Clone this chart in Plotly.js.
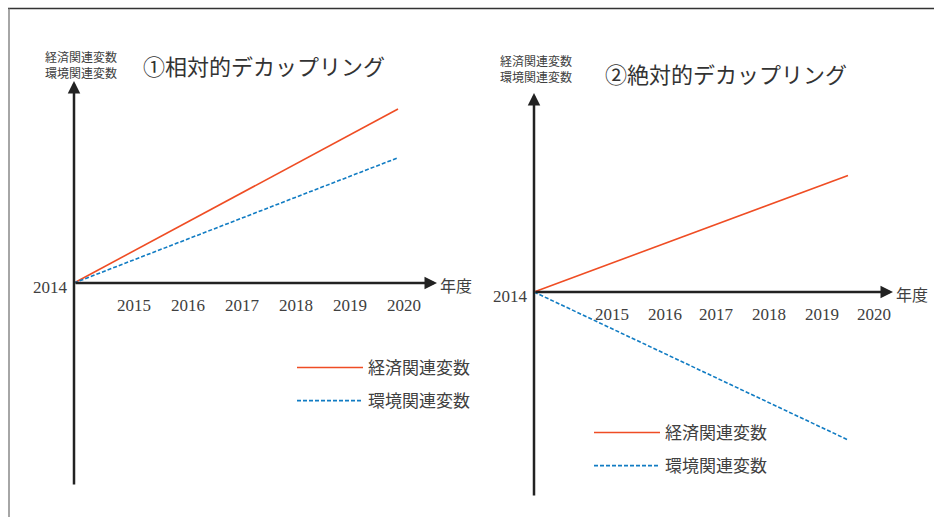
<!DOCTYPE html>
<html><head><meta charset="utf-8">
<script src="https://cdn.plot.ly/plotly-3.0.1.min.js"></script>
<style>html,body{margin:0;padding:0;background:#fff}#chart{width:934px;height:517px}</style>
</head><body><div id="chart"></div>
<script>
// ---- data ----
const years = [2014, 2020];
const tickYears = [2015, 2016, 2017, 2018, 2019, 2020];
const baseYearLabel = '2014';
const seriesNames = ['経済関連変数', '環境関連変数'];
const relativeEcon = [0, 100];
const relativeEnv = [0, 72];
const absoluteEcon = [0, 67];
const absoluteEnv = [0, -85];
const titles = ['①相対的デカップリング', '②絶対的デカップリング'];
const yAxisLabel = '経済関連変数<br>環境関連変数';
const xAxisLabel = '年度';

// ---- layout helpers ----
const W = 934, H = 517;
const RED = '#ef4d24', BLUE = '#117cc3', AX = '#222222', TXT = '#404040';
const SERIF = "'Liberation Serif', 'Noto Sans CJK JP', serif";
const CJK = "'Noto Sans CJK JP', sans-serif";
const base = years[0];

function panel(s) {
  return {
    xdomain: [s.box[0] / W, s.box[2] / W],
    ydomain: [1 - s.box[3] / H, 1 - s.box[1] / H],
    xrange: [base + (s.box[0] - s.ox) / s.pxX, base + (s.box[2] - s.ox) / s.pxX],
    yrange: [(s.oy - s.box[3]) / s.pxY, (s.oy - s.box[1]) / s.pxY],
    xTip: base + (s.xTipPx - s.ox) / s.pxX,
    yTop: (s.oy - s.yTopPx) / s.pxY,
    yBot: (s.oy - s.yBotPx) / s.pxY,
    s: s
  };
}
const P1 = panel({ox: 74, oy: 283, pxX: 54, pxY: 1.74, box: [60, 40, 450, 495], xTipPx: 437, yTopPx: 81, yBotPx: 486, tickDx: 6, tickDy: -22});
const P2 = panel({ox: 534, oy: 292, pxX: 52.33, pxY: 1.74, box: [520, 80, 905, 505], xTipPx: 893, yTopPx: 93, yBotPx: 497, tickDx: 26, tickDy: -22});

function axisOpts(p) {
  return {domain: p.xdomain, range: p.xrange, visible: false, fixedrange: true};
}
function yaxisOpts(p) {
  return {domain: p.ydomain, range: p.yrange, visible: false, fixedrange: true};
}

const traces = [
  {x: years, y: relativeEcon, xaxis: 'x', yaxis: 'y', mode: 'lines', name: seriesNames[0],
   line: {color: RED, width: 1.6}, legend: 'legend', legendgroup: 'a'},
  {x: years, y: relativeEnv, xaxis: 'x', yaxis: 'y', mode: 'lines', name: seriesNames[1],
   line: {color: BLUE, width: 1.6, dash: '4px,2px'}, legend: 'legend', legendgroup: 'b'},
  {x: years, y: absoluteEcon, xaxis: 'x2', yaxis: 'y2', mode: 'lines', name: seriesNames[0],
   line: {color: RED, width: 1.6}, legend: 'legend2', legendgroup: 'c'},
  {x: years, y: absoluteEnv, xaxis: 'x2', yaxis: 'y2', mode: 'lines', name: seriesNames[1],
   line: {color: BLUE, width: 1.6, dash: '4px,2px'}, legend: 'legend2', legendgroup: 'd'}
];

const annotations = [];
[[P1, 'x', 'y'], [P2, 'x2', 'y2']].forEach(([p, xr, yr], i) => {
  // axes with arrowheads
  annotations.push({xref: xr, yref: yr, axref: xr, ayref: yr, x: p.xTip, y: 0, ax: base, ay: 0,
    text: '', showarrow: true, arrowhead: 2, arrowsize: 1, arrowwidth: 2.5, arrowcolor: AX});
  annotations.push({xref: xr, yref: yr, axref: xr, ayref: yr, x: base, y: p.yTop, ax: base, ay: p.yBot,
    text: '', showarrow: true, arrowhead: 2, arrowsize: 1, arrowwidth: 2.5, arrowcolor: AX});
  // tick labels
  tickYears.forEach(yr0 => {
    annotations.push({xref: xr, yref: yr, x: yr0, y: 0, text: String(yr0), showarrow: false,
      xanchor: 'center', yanchor: 'middle',
      xshift: p.s.tickDx, yshift: p.s.tickDy, font: {family: SERIF, size: 17, color: TXT}});
  });
  annotations.push({xref: xr, yref: yr, x: base, y: 0, text: baseYearLabel, showarrow: false,
    xanchor: 'right', yanchor: 'middle', xshift: -4, yshift: -4, font: {family: SERIF, size: 17, color: TXT}});
  // x axis label
  annotations.push({xref: xr, yref: yr, x: p.xTip, y: 0, text: xAxisLabel, showarrow: false,
    xanchor: 'left', yanchor: 'middle', xshift: 1, yshift: -2, font: {family: CJK, size: 16, color: TXT}});
});
// y axis labels & titles
function paperText(text, cx, cy, size, color) {
  return {xref: 'paper', yref: 'paper', x: cx / W, y: 1 - cy / H, text: text, showarrow: false,
    xanchor: 'center', yanchor: 'middle', font: {family: CJK, size: size, color: color}};
}
annotations.push(paperText(yAxisLabel, 81, 64.5, 12, TXT));
annotations.push(paperText(yAxisLabel, 536, 69, 12, TXT));
annotations.push(paperText(titles[0], 263.5, 65, 22, '#333'));
annotations.push(paperText(titles[1], 725.5, 73, 22, '#333'));

const legendStyle = {xanchor: 'left', yanchor: 'top', bgcolor: 'rgba(0,0,0,0)', borderwidth: 0,
  font: {family: CJK, size: 17, color: TXT}, itemwidth: 66, tracegroupgap: 8, traceorder: 'grouped'};

const layout = {
  width: W, height: H, margin: {l: 0, r: 0, t: 0, b: 0}, paper_bgcolor: '#fff', plot_bgcolor: 'rgba(0,0,0,0)',
  hovermode: false, showlegend: true,
  xaxis: axisOpts(P1), yaxis: yaxisOpts(P1),
  xaxis2: axisOpts(P2), yaxis2: yaxisOpts(P2),
  legend: Object.assign({x: 292 / W, y: 1 - 350 / H}, legendStyle),
  legend2: Object.assign({x: 589 / W, y: 1 - 415 / H}, legendStyle),
  annotations: annotations,
  shapes: [
    {type: 'line', xref: 'paper', yref: 'paper', x0: 8 / W, x1: 1, y0: 1 - 8.5 / H, y1: 1 - 8.5 / H, line: {color: '#333', width: 1.5}},
    {type: 'line', xref: 'paper', yref: 'paper', x0: 9 / W, x1: 9 / W, y0: 0, y1: 1 - 8.5 / H, line: {color: '#888', width: 1.5}}
  ]
};

Plotly.newPlot('chart', traces, layout, {displayModeBar: false, staticPlot: true});
</script>
</body></html>
